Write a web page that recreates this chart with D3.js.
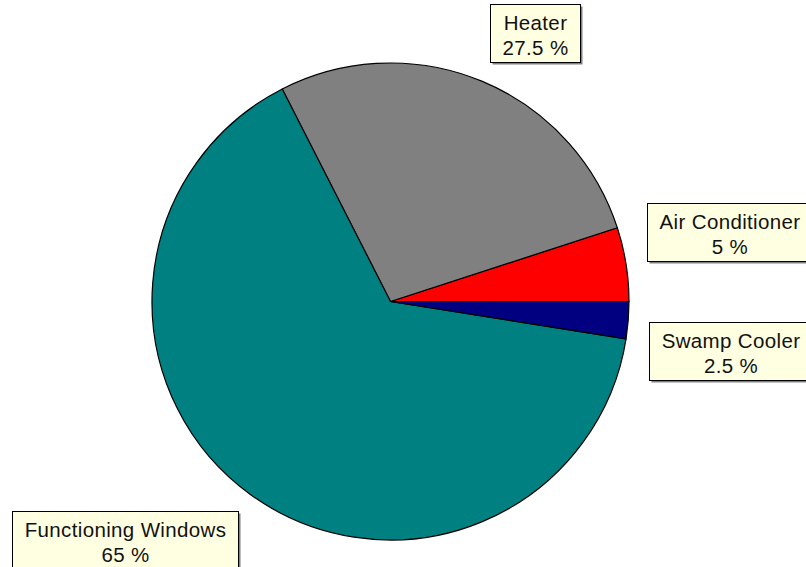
<!DOCTYPE html>
<html>
<head>
<meta charset="utf-8">
<script src="https://cdn.jsdelivr.net/npm/d3@7"></script>
<style>
  html, body { margin: 0; padding: 0; background: #fff; overflow: hidden; }
</style>
</head>
<body>
<div id="chart"></div>
<script>
const categories = ["Air Conditioner", "Heater", "Functioning Windows", "Swamp Cooler"];
const shares = [5, 27.5, 65, 2.5];
const sliceColors = ["#ff0000", "#808080", "#008080", "#000080"];

const width = 806, height = 567;
const cx = 390.5, cy = 301.5, radius = 238.5;

const svg = d3.select("#chart").append("svg")
  .attr("width", width)
  .attr("height", height)
  .style("font-family", "'Liberation Sans', Arial, sans-serif");

const data = categories.map((c, i) => ({ name: c, value: shares[i], color: sliceColors[i] }));

// slices run counter-clockwise from 3 o'clock
const pie = d3.pie()
  .sort(null)
  .value(d => d.value)
  .startAngle(Math.PI / 2)
  .endAngle(Math.PI / 2 - 2 * Math.PI);

const arc = d3.arc().innerRadius(0).outerRadius(radius);
const anchorArc = d3.arc().innerRadius(radius + 21).outerRadius(radius + 21);

const g = svg.append("g").attr("transform", `translate(${cx},${cy})`);
const arcs = pie(data);

g.selectAll("path")
  .data(arcs)
  .join("path")
  .attr("d", arc)
  .attr("fill", d => d.data.color)
  .attr("stroke", "#000")
  .attr("stroke-width", 1.2)
  .attr("stroke-linejoin", "round");

// labels: box corner sits on the slice's mid-angle, just outside the pie
const boxH = 58, padX = 12, lineGap = 25;
const labels = svg.append("g");

arcs.forEach(d => {
  const [ax, ay] = anchorArc.centroid(d);
  const px = cx + ax, py = cy + ay;
  const lines = [d.data.name, `${d.data.value} %`];

  const lg = labels.append("g");
  const shadow = lg.append("rect").attr("fill", "#808080");
  const box = lg.append("rect").attr("fill", "#ffffe1").attr("stroke", "#000").attr("stroke-width", 1);
  const texts = lines.map(t => lg.append("text")
    .attr("text-anchor", "middle")
    .style("font-size", "20.5px")
    .style("letter-spacing", "0.35px")
    .attr("fill", "#111")
    .text(t));
  const tw = d3.max(texts, t => t.node().getComputedTextLength());
  const bw = Math.round(tw + padX * 2);
  const x0 = ax >= 0 ? px : px - bw;
  const y0 = ay <= 0 ? py - boxH : py;
  const bx = Math.round(x0) + 0.5, by = Math.round(y0) + 0.5;

  shadow.attr("x", bx + 2).attr("y", by + 2).attr("width", bw).attr("height", boxH);
  box.attr("x", bx).attr("y", by).attr("width", bw).attr("height", boxH);
  texts.forEach((t, i) => t
    .attr("x", bx + bw / 2)
    .attr("y", by + 25 + i * lineGap));
});
</script>
</body>
</html>
